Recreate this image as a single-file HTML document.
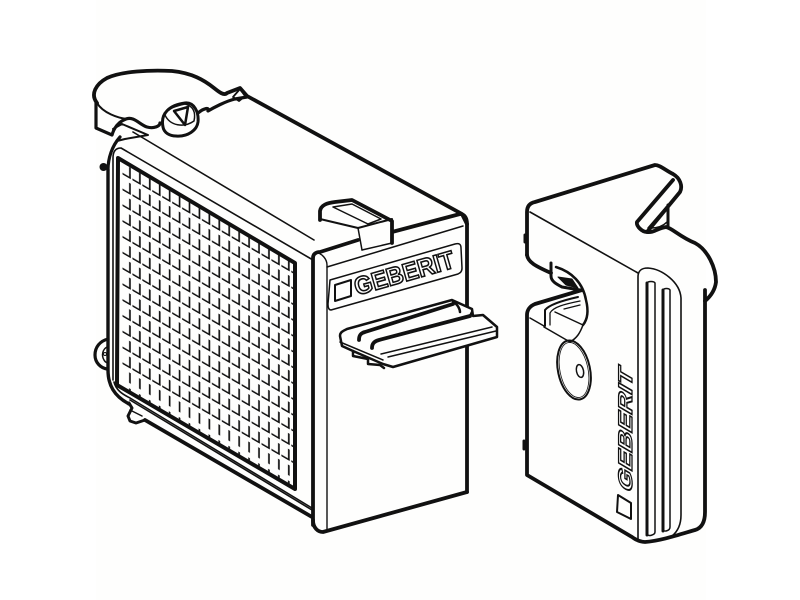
<!DOCTYPE html>
<html><head><meta charset="utf-8"><style>
html,body{margin:0;padding:0;background:#fff;width:800px;height:600px;overflow:hidden}
svg{display:block}
text{font-family:"Liberation Sans",sans-serif;font-weight:bold}
</style></head><body>
<svg width="800" height="600" viewBox="0 0 800 600" xmlns="http://www.w3.org/2000/svg">
<defs>
<pattern id="t" width="9.93" height="15.8" patternUnits="userSpaceOnUse" patternTransform="matrix(1 .58 0 1 118 160)">
<path d="M2 .5V11" fill="none" stroke="#111" stroke-width="1.7"/>
</pattern>
<pattern id="d" width="9.93" height="15.8" patternUnits="userSpaceOnUse" patternTransform="matrix(1 .58 0 1 118 160)">
<path d="M0 11H2.800M4.500 11H9.930" fill="none" stroke="#111" stroke-width="1.7"/>
</pattern>
</defs>
<rect width="800" height="600" fill="#fff"/>
<rect x="96" y="0" width="610" height="600" fill="#fefefd"/>
<g fill="none" stroke="#111" stroke-linejoin="round" stroke-linecap="round">
<!-- grille -->
<path d="M121 162L293 262V487L121 387Z" fill="url(#t)" stroke="none"/>
<path d="M121 162L293 262V472L121 372Z" fill="url(#d)" stroke="none"/>
<path d="M118 158L295 263V489L117 385Z" stroke-width="4"/>
<!-- left frame -->
<path d="M108 170C108 158 112 146 120 137" stroke-width="3.200"/>
<path d="M108 170V370C108 385 114 396 129 404" stroke-width="3.400"/>
<path d="M113 380V158C113 151 116 148 121 148L313 260" stroke-width="1.600"/>
<path d="M114 382C116 390 122 394 130 398L312 508" stroke-width="1.600"/>
<path d="M133 132L314 240" stroke-width="1.600"/>
<circle cx="103.500" cy="167" r="4" fill="#111" stroke="none"/>
<path d="M108 339C100 341 95 347 95 355C95 363 101 368 107 369" stroke-width="3.200"/>
<path d="M107 347C103 349 101 355 104 360C105 362 107 363 108 363" stroke-width="1.500"/>
<circle cx="105" cy="354" r="1.500" stroke-width="1"/>
<path d="M129 403L132 408L128 416L130 421L136 423L145 420" stroke-width="3"/>
<path d="M130 410L142 416" stroke-width="1.500"/>
<path d="M145 420L312 517" stroke-width="3.800"/>
<path d="M130 400L312 510" stroke-width="1.600"/>
<!-- clip loop -->
<path d="M97 103C90 94 96 84 107 78C122 71 150 70 172 71C192 73 204 80 214 88C219 92 224 96 227 93L240 88L247 96L462 214L467 224" stroke-width="3.800"/>
<path d="M96 103V128L112 135C114 128 118 122 126 119C134 116 140 125 147 127C154 129 160 126 160 123" stroke-width="3.200"/>
<path d="M97 103C103 113 118 118 127 119" stroke-width="2"/>
<path d="M113 129L122 124L148 135L125 139L117 141" stroke-width="2"/>
<path d="M163 127C160 113 170 105 185 103C194 102 199 112 198 122C197 130 188 137 176 136C170 136 164 133 163 127Z" fill="#fefefd" stroke-width="3"/>
<path d="M165 115C168 108 176 106 185 104C193 106 196 112 194 121C184 128 170 126 165 115Z" stroke-width="1.500"/>
<path d="M174 111L188 107L185 125Z" stroke-width="2.500"/>
<path d="M198 113C204 108 210 107 208 111C213 108 226 101 235 99L247 97" stroke-width="3.200"/>
<path d="M233 97L240 89L245 96L239 101Z" stroke-width="1.800"/>
<!-- front panel -->
<path d="M313 525V258C313 254 316 252 320 252L358 240" stroke-width="3.800"/>
<path d="M392 232L460 214C465 214 467 219 467 224V492" stroke-width="3.800"/>
<path d="M313 520C313 528 318 532 323 532L467 492" stroke-width="3.800"/>
<path d="M327 530V265C327 259 322 254 318 253" stroke-width="1.400"/>
<path d="M327 267L463 226" stroke-width="1.500"/>
<path d="M330 280L455 244C459 243 461 244 461 248L462 268C462 272 460 273 458 274L331 310C329 310 328 308 328 304Z" stroke-width="1.500"/>
<path d="M335 285L351 280V296L335 301Z" stroke-width="2"/>
<!-- top tab -->
<path d="M320 221V211C321 205 327 203 335 202L352 200L392 221V242L363 250L358 229Z" fill="#fefefd" stroke="none"/>
<path d="M320 220V211C321 205 327 203 335 202L352 200L392 221V243" stroke-width="3.800"/>
<path d="M320 219L358 228L392 219" stroke-width="2"/>
<path d="M358 228L362 250" stroke-width="1.500"/>
<path d="M333 207L352 204L381 219L368 224Z" stroke-width="1.500"/>
<path d="M392 243L362 250" stroke-width="1.500"/>
<!-- handle -->
<path d="M340 336C340 332 343 331 347 329L452 300L472 309L473 316L483 315L497 327V337L393 367L383 364L353 351L342 346Z" fill="#fefefd" stroke-width="2.500"/>
<path d="M359 340C359 335 361 333 365 332L453 304" stroke-width="3.800"/>
<path d="M372 348C372 343 375 341 379 340L470 316" stroke-width="3.800"/>
<path d="M453 302C458 304 460 310 460 312" stroke-width="2.500"/>
<path d="M470 316L472 312" stroke-width="2.500"/>
<path d="M381 354L492 327" stroke-width="1.500"/>
<path d="M388 357L496 331" stroke-width="1.500"/>
<path d="M340 342L383 360" stroke-width="1.500"/>
<path d="M353 351V356L368 359V364L380 365L384 368" stroke-width="2.500"/>
</g>
<text transform="translate(357 295.500) rotate(-16)" font-size="25" textLength="103" lengthAdjust="spacingAndGlyphs" fill="#fff" stroke="#111" stroke-width="1.600">GEBERIT</text>
<!-- right piece -->
<g fill="none" stroke="#111" stroke-linejoin="round" stroke-linecap="round">
<path d="M527 255V212C527 206 530 203 535 202L655 165C660 165 665 170 673 174C680 178 683 186 680 192L647 232C642 232 636 226 637 222L673 180" stroke-width="3.800"/>
<path d="M647 232C654 233 658 228 666 227C672 228 680 237 695 243C708 250 716 268 716 282C715 290 711 296 705 301" stroke-width="3.800"/>
<path d="M668 205V226" stroke-width="3"/>
<path d="M648 228L667 206M651 228C657 228 663 226 667 222" stroke-width="1.500"/>
<path d="M705 290V512C705 522 702 528 695 530C678 535 660 541 645 542C640 542 636 540 632 537L527 475V315C527 310 530 306 535 304L582 290" stroke-width="3.800"/>
<path d="M527 255C528 262 535 266 551 273" stroke-width="3.800"/>
<path d="M525 235V242M524 441V449" stroke-width="3"/>
<path d="M530 212L638 273" stroke-width="1.600"/>
<path d="M638 540V277C638 270 642 268 648 268C662 269 680 282 681 298V515C681 525 677 532 672 536" stroke-width="1.600"/>
<path d="M647 535V283" stroke-width="3"/>
<path d="M647 283C648 281 654 281 655 283V532C655 535 648 537 647 534" stroke-width="1.500"/>
<path d="M663 531V290" stroke-width="3"/>
<path d="M663 290C664 288 669 288 670 290V527C670 531 664 532 663 530" stroke-width="1.500"/>
<!-- notch -->
<path d="M551 263V276C551 281 556 284 562 287L580 290" stroke-width="3"/>
<path d="M558 277L566 285L578 288L572 279Z" fill="#111" stroke-width="1"/>
<path d="M556 267C572 272 583 283 586 300C589 312 587 320 583 325" stroke-width="2.500"/>
<path d="M583 325C580 333 577 338 570 342L544 327" stroke-width="1.500"/>
<path d="M545 326V310C549 305 560 301 578 297" stroke-width="2"/>
<path d="M550 325V313C553 307 565 304 580 301" stroke-width="1.300"/>
<path d="M555 312L583 325" stroke-width="1.500"/>
<path d="M564 309L580 305" stroke-width="1.300"/>
<path d="M530 318L544 326" stroke-width="1.500"/>
<!-- button -->
<ellipse cx="574" cy="370" rx="16" ry="30" transform="rotate(-12 574 370)" stroke-width="2"/>
<ellipse cx="574" cy="370" rx="14" ry="28" transform="rotate(-12 574 370)" stroke-width=".8"/>
<ellipse cx="580" cy="371" rx="3.500" ry="6.500" transform="rotate(-12 580 371)" stroke-width="1.500"/>
<path d="M618 495L631 503V519L617 512Z" stroke-width="2"/>
</g>
<text transform="matrix(0 -1 .85 .5 632 494)" font-size="23" textLength="122" lengthAdjust="spacingAndGlyphs" fill="#fff" stroke="#111" stroke-width="1.500">GEBERIT</text>
</svg>
</body></html>
